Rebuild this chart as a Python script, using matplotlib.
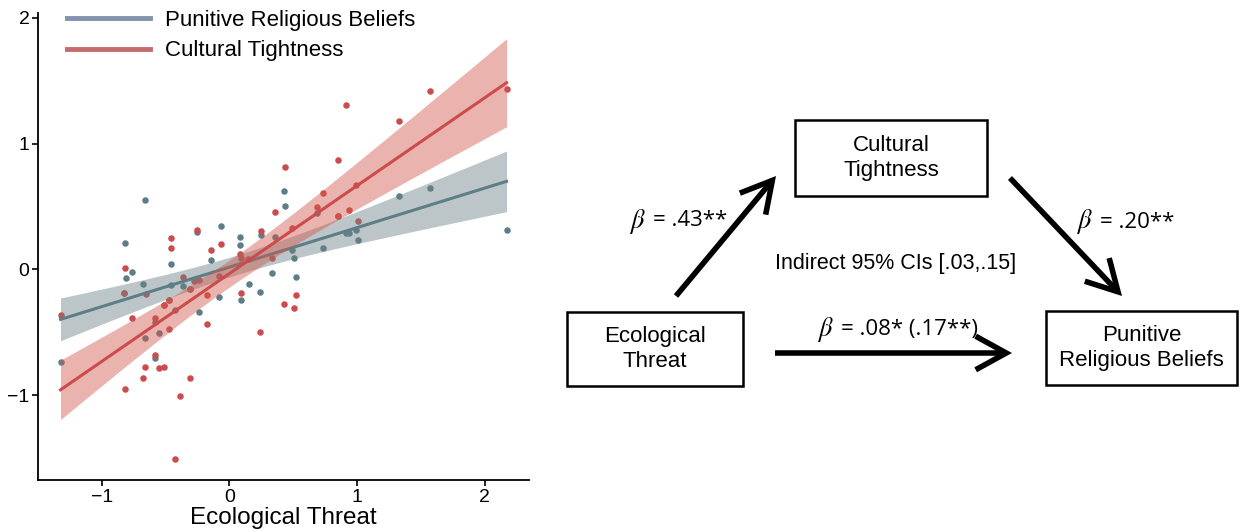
import numpy as np
import matplotlib.pyplot as plt
from matplotlib.patches import Rectangle, FancyArrowPatch

# scatter data: Ecological Threat (x) vs each outcome (y)
red_x = [-1.323, -0.820, -0.823, -0.815, -0.761, -0.675, -0.664, -0.653, -0.586, -0.583,
         -0.551, -0.513, -0.516, -0.476, -0.476, -0.460, -0.454, -0.430, -0.387, -0.363,
         -0.306, -0.306, -0.277, -0.255, -0.239, -0.172, -0.172, -0.142, -0.078, -0.062,
         0.086, 0.089, 0.089, 0.148, 0.239, 0.247, 0.333, 0.358, 0.425, 0.433,
         0.492, 0.508, 0.519, 0.685, 0.731, 0.852, 0.852, 0.911, 0.941, 0.995,
         1.005, 1.325, 1.575, 2.172]
red_y = [-0.365, 0.014, -0.189, -0.951, -0.386, -0.859, -0.773, -0.195, -0.386, -0.676,
         -0.786, -0.778, -0.284, -0.246, -0.470, 0.254, 0.173, -1.505, -1.005, -0.057,
         -0.157, -0.859, -0.095, 0.316, -0.086, -0.200, -0.435, 0.154, -0.049, 0.203,
         0.122, 0.095, -0.189, 0.081, -0.495, 0.303, 0.089, 0.454, -0.278, 0.811,
         0.332, -0.305, -0.200, 0.500, 0.608, 0.424, 0.870, 1.305, 0.476, 0.673,
         0.389, 1.176, 1.419, 1.432]

gray_x = [-1.323, -0.817, -0.812, -0.823, -0.761, -0.675, -0.659, -0.661, -0.583, -0.581,
          -0.551, -0.513, -0.476, -0.454, -0.460, -0.430, -0.363, -0.306, -0.255, -0.239,
          -0.142, -0.078, -0.062, 0.086, 0.086, 0.089, 0.153, 0.239, 0.247, 0.333,
          0.358, 0.425, 0.433, 0.492, 0.508, 0.519, 0.685, 0.731, 0.852, 0.911,
          0.941, 0.995, 1.005, 1.325, 1.575, 2.172]
gray_y = [-0.735, 0.208, -0.070, -0.189, -0.022, -0.116, 0.549, -0.546, -0.703, -0.419,
          -0.505, -0.284, -0.246, 0.041, -0.122, -0.319, -0.135, -0.157, 0.300, -0.341,
          0.073, -0.222, 0.349, 0.257, 0.195, -0.246, -0.116, -0.176, 0.276, -0.027,
          0.262, 0.627, 0.505, 0.154, 0.089, -0.059, 0.446, 0.168, 0.424, 0.289,
          0.289, 0.316, 0.232, 0.586, 0.649, 0.316]

# path coefficients of the mediation model
beta_labels = ["= .43**", "= .20**", "= .08* (.17**)"]
indirect_label = "Indirect 95% CIs [.03,.15]"

RED = "#cc4b4d"
GRAY = "#5d7e86"

plt.rcParams['font.family'] = ['Liberation Sans', 'DejaVu Sans']
plt.rcParams['mathtext.fontset'] = 'stix'

fig = plt.figure(figsize=(12.44, 5.32), dpi=100)
ax = fig.add_axes([0.0305, 0.097, 0.395, 0.879])


def fit_band(x, y, grid):
    x = np.asarray(x); y = np.asarray(y)
    b, a = np.polyfit(x, y, 1)
    n = len(x)
    resid = y - (a + b * x)
    s = np.sqrt(np.sum(resid ** 2) / (n - 2))
    sxx = np.sum((x - x.mean()) ** 2)
    se = s * np.sqrt(1.0 / n + (grid - x.mean()) ** 2 / sxx)
    fit = a + b * grid
    return fit, fit - 2.01 * se, fit + 2.01 * se


ax.scatter(gray_x, gray_y, s=22, color=GRAY, lw=0, zorder=2)
ax.scatter(red_x, red_y, s=22, color=RED, lw=0, zorder=2)

gx = np.linspace(min(gray_x), max(gray_x), 100)
fit, lo, hi = fit_band(gray_x, gray_y, gx)
ax.fill_between(gx, lo, hi, color="#6b8187", alpha=0.45, lw=0, zorder=3)
ax.plot(gx, fit, color=GRAY, lw=2.2, zorder=3)

rx = np.linspace(min(red_x), max(red_x), 100)
fit, lo, hi = fit_band(red_x, red_y, rx)
ax.fill_between(rx, lo, hi, color="#d2574a", alpha=0.45, lw=0, zorder=4)
ax.plot(rx, fit, color=RED, lw=2.2, zorder=4)

# legend
ax.plot([], [], color="#8393ad", lw=3.5, label="Punitive Religious Beliefs")
ax.plot([], [], color="#c46b6b", lw=3.5, label="Cultural Tightness")
ax.legend(loc="upper left", bbox_to_anchor=(0.041, 1.025), frameon=False, fontsize=16,
          handlelength=3.74, handletextpad=0.68, labelspacing=0.42, borderaxespad=0)

ax.set_xlim(-1.50, 2.35)
ax.set_ylim(-1.676, 2.04)
ax.set_xticks([-1, 0, 1, 2])
ax.set_yticks([-1, 0, 1, 2])
ax.tick_params(labelsize=14, length=4, width=1.2, color="black", pad=2)
for side in ["top", "right"]:
    ax.spines[side].set_visible(False)
for side in ["left", "bottom"]:
    ax.spines[side].set_linewidth(1.3)
ax.set_xlabel("Ecological Threat", fontsize=17.5, labelpad=1)

# mediation diagram, drawn in pixel coordinates
dx = fig.add_axes([550 / 1244, 0, 694 / 1244, 1])
dx.set_xlim(550, 1244)
dx.set_ylim(532, 0)
dx.axis("off")

boxes = [
    (795, 120, 192, 76, "Cultural\nTightness"),
    (567, 312, 176, 74, "Ecological\nThreat"),
    (1046, 311, 191, 74, "Punitive\nReligious Beliefs"),
]
for x0, y0, w, h, label in boxes:
    dx.add_patch(Rectangle((x0, y0), w, h, fill=False, lw=1.8, ec="black"))
    dx.text(x0 + w / 2, y0 + h / 2, label, ha="center", va="center",
            fontsize=16, linespacing=1.2)

arrows = [((676, 296), (776, 176)), ((1010, 178), (1122, 296)), ((775, 353), (1012, 353))]
for start, end in arrows:
    dx.add_patch(FancyArrowPatch(start, end, arrowstyle="->,head_length=1.0,head_width=0.55",
                                 mutation_scale=22, lw=4, color="black",
                                 shrinkA=0, shrinkB=0, joinstyle="miter", capstyle="butt"))

beta_pos = [(629, 221), (1076, 222), (817, 329)]
for (bx, by), lab in zip(beta_pos, beta_labels):
    dx.text(bx, by, r"$\beta$", fontsize=19, ha="left", va="center")
    dx.text(bx + 24, by, lab, fontsize=16, family=["Open Sans", "DejaVu Sans"],
            ha="left", va="center")

dx.text(896, 264, indirect_label, fontsize=15.5, ha="center", va="center")

fig.savefig("out.png", dpi=100)
